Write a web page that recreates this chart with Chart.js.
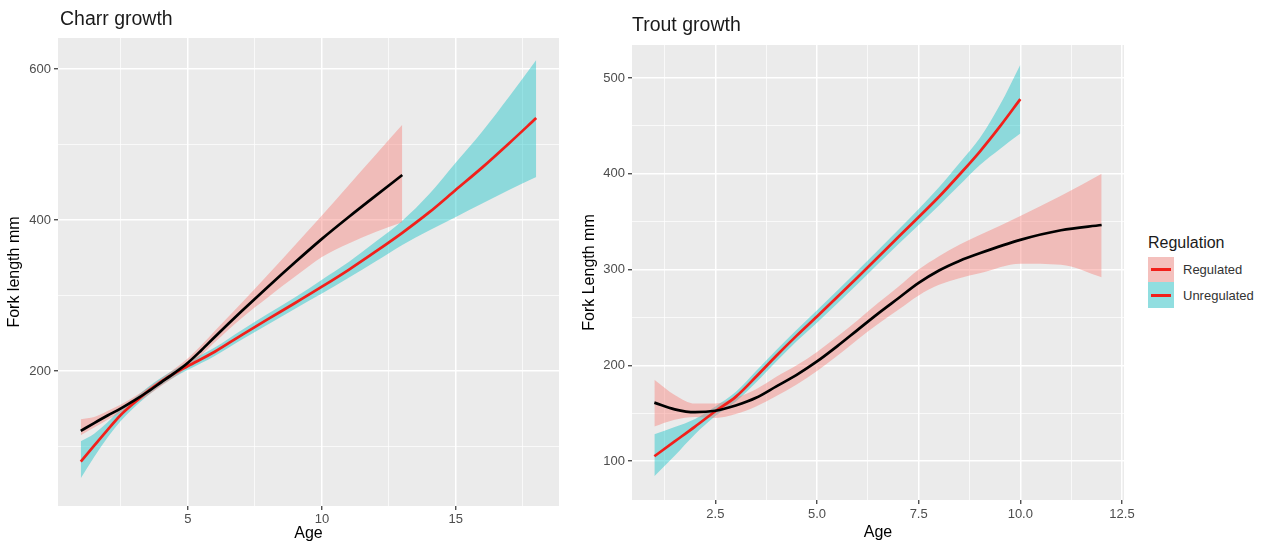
<!DOCTYPE html>
<html>
<head>
<meta charset="utf-8">
<script src="https://cdn.jsdelivr.net/npm/chart.js@4.4.1/dist/chart.umd.min.js"></script>
<style>
html,body{margin:0;padding:0;background:#fff;width:1268px;height:543px;overflow:hidden;font-family:"Liberation Sans",Arial,sans-serif;}
canvas{position:absolute;top:0;}
#c1{left:0;}
#c2{left:565px;}
.ttl{position:absolute;font-size:19.5px;line-height:1;color:#1a1a1a;white-space:nowrap;}
.lg{position:absolute;white-space:nowrap;line-height:1;}
</style>
</head>
<body>
<canvas id="c1" width="565" height="543"></canvas>
<canvas id="c2" width="580" height="543"></canvas>
<div class="ttl" style="left:60px;top:9px">Charr growth</div>
<div class="ttl" style="left:632px;top:15px">Trout growth</div>

<div class="lg" style="left:1148px;top:235px;font-size:16px;color:#1a1a1a">Regulation</div>
<div class="lg" style="left:1148px;top:257px;width:26px;height:25px;background:#F4C0BD"></div>
<div class="lg" style="left:1151px;top:268px;width:20px;height:3px;background:#F2201B"></div>
<div class="lg" style="left:1148px;top:282px;width:26px;height:26px;background:#91DEE0"></div>
<div class="lg" style="left:1151px;top:294px;width:20px;height:3px;background:#F2201B"></div>
<div class="lg" style="left:1183px;top:263px;font-size:13px;color:#333">Regulated</div>
<div class="lg" style="left:1183px;top:289px;font-size:13px;color:#333">Unregulated</div>

<script>
// ---------- DATA ----------
// Charr growth (left panel)
const charrRegAge   = [1, 1.5, 2, 2.5, 3, 3.5, 4, 4.5, 5, 5.5, 6, 7, 8, 9, 10, 11, 12, 13];
const charrRegFit   = [120.7, 131, 141, 150.5, 161, 172.5, 185, 197.5, 211, 227.5, 245, 279, 312, 344, 375, 404, 432, 459.5];
const charrRegLo    = [115, 125, 135.5, 145.5, 156, 167.5, 180, 192, 205, 221, 238, 270, 298, 325, 351, 369, 384, 397];
const charrRegHi    = [136, 139, 147, 155.5, 166, 177.5, 190, 203, 217, 234, 253, 290, 328, 367, 406, 446, 486, 526];

const charrUnregAge = [1, 1.5, 2, 2.5, 3, 3.5, 4, 4.5, 5, 6, 7, 8, 9, 10, 11, 12, 13, 14, 15, 16, 17, 18];
const charrUnregFit = [80, 101, 122, 142, 158, 173, 186, 197, 206.6, 225.5, 247.6, 269, 290, 311.6, 334, 358, 383, 410, 440, 470, 502, 535];
const charrUnregLo  = [58, 86, 112, 134, 152, 167.5, 181, 192, 201.5, 220, 241.5, 262, 282.5, 302.5, 323.5, 345, 367, 386, 404, 422, 440, 457];
const charrUnregHi  = [107, 117, 132, 150, 164, 178.5, 191, 202, 212, 231, 254, 276, 297.5, 321, 344.5, 371, 399, 434, 476, 518, 564, 612];

const charrXTicks = [2.5, 5, 7.5, 10, 12.5, 15, 17.5];
const charrXMajor = [5, 10, 15];
const charrYTicks = [100, 200, 300, 400, 500, 600];
const charrYMajor = [200, 400, 600];

// Trout growth (right panel)
const troutRegAge   = [1, 1.5, 2, 2.5, 3, 3.5, 4, 4.5, 5, 5.5, 6, 6.5, 7, 7.5, 8, 8.5, 9, 10, 11, 12];
const troutRegFit   = [161, 154, 151, 152.5, 158, 166, 178, 190, 204, 220, 237, 254, 270, 286, 299, 309, 317, 331, 341, 346.5];
const troutRegLo    = [136, 143, 146, 145, 149, 157, 168, 180, 194, 210, 227, 243, 258, 273, 284, 291, 296, 306, 305, 292];
const troutRegHi    = [185, 169, 160, 160, 166, 175, 188, 200, 214, 230, 247, 265, 282, 300, 314, 326, 336, 356, 377, 400];

const troutUnregAge = [1, 1.5, 2, 2.5, 3, 3.5, 4, 4.5, 5, 6, 7, 8, 8.5, 9, 9.5, 10];
const troutUnregFit = [105, 120.5, 136, 152, 167, 188, 210, 231, 251, 292, 334, 376, 399, 423, 449.5, 478];
const troutUnregLo  = [84, 105.5, 128, 147, 162, 182, 204, 225, 244.5, 285, 326.5, 367, 388, 409, 426, 442];
const troutUnregHi  = [128, 135.5, 144, 157, 172, 194, 216, 237, 257.5, 299, 341.5, 386, 411, 437, 472, 514];

const troutXTicks = [1.25, 2.5, 3.75, 5, 6.25, 7.5, 8.75, 10, 11.25, 12.5];
const troutXMajor = [2.5, 5, 7.5, 10, 12.5];
const troutYTicks = [100, 150, 200, 250, 300, 350, 400, 450, 500];
const troutYMajor = [100, 200, 300, 400, 500];

// ---------- STYLE ----------
const FAMILY = '"Liberation Sans", Arial, sans-serif';
const PINK_FILL = 'rgba(248,118,109,0.4)';
const CYAN_FILL = 'rgba(0,191,196,0.4)';
const RED = '#F2201B';
const BLACK = '#000000';

function pts(xs, ys) { return xs.map((x, i) => ({ x: x, y: ys[i] })); }

function ribbon(xs, lo, hi, fill) {
  return [
    { data: pts(xs, hi), borderColor: 'rgba(0,0,0,0)', borderWidth: 0, pointRadius: 0,
      fill: '+1', backgroundColor: fill, order: 2, cubicInterpolationMode: 'monotone' },
    { data: pts(xs, lo), borderColor: 'rgba(0,0,0,0)', borderWidth: 0, pointRadius: 0,
      fill: false, order: 2, cubicInterpolationMode: 'monotone' }
  ];
}
function fitLine(xs, ys, color) {
  return { data: pts(xs, ys), borderColor: color, borderWidth: 2.7, pointRadius: 0,
    fill: false, order: 0, cubicInterpolationMode: 'monotone' };
}

function axisOpts(o) {
  const isMajor = v => o.majors.some(m => Math.abs(m - v) < 1e-9);
  return {
    type: 'linear', min: o.min, max: o.max,
    afterBuildTicks: ax => { ax.ticks = o.ticks.map(v => ({ value: v })); },
    afterFit: ax => { if (o.isX) ax.height = o.fit; else ax.width = o.fit; },
    border: { display: false },
    grid: {
      color: '#FFFFFF',
      lineWidth: c => (c.tick && isMajor(c.tick.value)) ? 1.5 : 0.7,
      tickColor: c => (c.tick && isMajor(c.tick.value)) ? '#333333' : 'rgba(0,0,0,0)',
      tickWidth: 1.2,
      tickLength: 4,
      drawTicks: true
    },
    ticks: {
      autoSkip: false, maxRotation: 0, padding: o.tickPad, color: '#4D4D4D',
      font: { size: 13, family: FAMILY },
      callback: v => isMajor(v) ? o.fmt(v) : ''
    },
    title: {
      display: true, text: o.title, color: '#000000',
      font: { size: 16, family: FAMILY },
      padding: o.isX ? { top: 0, bottom: o.tpad } : { top: o.tpad, bottom: 0 }
    }
  };
}

const panelBg = {
  id: 'panelBg',
  beforeDraw(chart) {
    const a = chart.chartArea, ctx = chart.ctx;
    ctx.save();
    ctx.fillStyle = '#EBEBEB';
    ctx.fillRect(a.left, a.top, a.right - a.left, a.bottom - a.top);
    ctx.restore();
  }
};

function baseOptions(pad, x, y) {
  return {
    responsive: false, animation: false, devicePixelRatio: 1,
    layout: { padding: pad },
    plugins: { legend: { display: false }, tooltip: { enabled: false }, title: { display: false } },
    scales: { x: x, y: y }
  };
}

// ---------- CHARTS ----------
new Chart(document.getElementById('c1'), {
  type: 'line',
  data: {
    datasets: [
      fitLine(charrRegAge, charrRegFit, BLACK),
      fitLine(charrUnregAge, charrUnregFit, RED),
      ...ribbon(charrRegAge, charrRegLo, charrRegHi, PINK_FILL),
      ...ribbon(charrUnregAge, charrUnregLo, charrUnregHi, CYAN_FILL)
    ]
  },
  options: baseOptions(
    { left: 0, right: 6, top: 38, bottom: 0 },
    axisOpts({ isX: true, min: 0.15, max: 18.85, ticks: charrXTicks, majors: charrXMajor,
      fmt: v => String(v), fit: 37, title: 'Age', tpad: 0, tickPad: 2 }),
    axisOpts({ isX: false, min: 21.2, max: 641, ticks: charrYTicks, majors: charrYMajor,
      fmt: v => String(v), fit: 58, title: 'Fork length mm', tpad: 4.5, tickPad: 3 })
  ),
  plugins: [panelBg]
});

new Chart(document.getElementById('c2'), {
  type: 'line',
  data: {
    datasets: [
      fitLine(troutRegAge, troutRegFit, BLACK),
      fitLine(troutUnregAge, troutUnregFit, RED),
      ...ribbon(troutRegAge, troutRegLo, troutRegHi, PINK_FILL),
      ...ribbon(troutUnregAge, troutUnregLo, troutUnregHi, CYAN_FILL)
    ]
  },
  options: baseOptions(
    { left: 0, right: 21, top: 45, bottom: 0 },
    axisOpts({ isX: true, min: 0.45, max: 12.55, ticks: troutXTicks, majors: troutXMajor,
      fmt: v => v.toFixed(1), fit: 43, title: 'Age', tpad: 0.5, tickPad: 3 }),
    axisOpts({ isX: false, min: 59.3, max: 534.5, ticks: troutYTicks, majors: troutYMajor,
      fmt: v => String(v), fit: 67, title: 'Fork Length mm', tpad: 15.4, tickPad: 3 })
  ),
  plugins: [panelBg]
});
</script>
</body>
</html>
